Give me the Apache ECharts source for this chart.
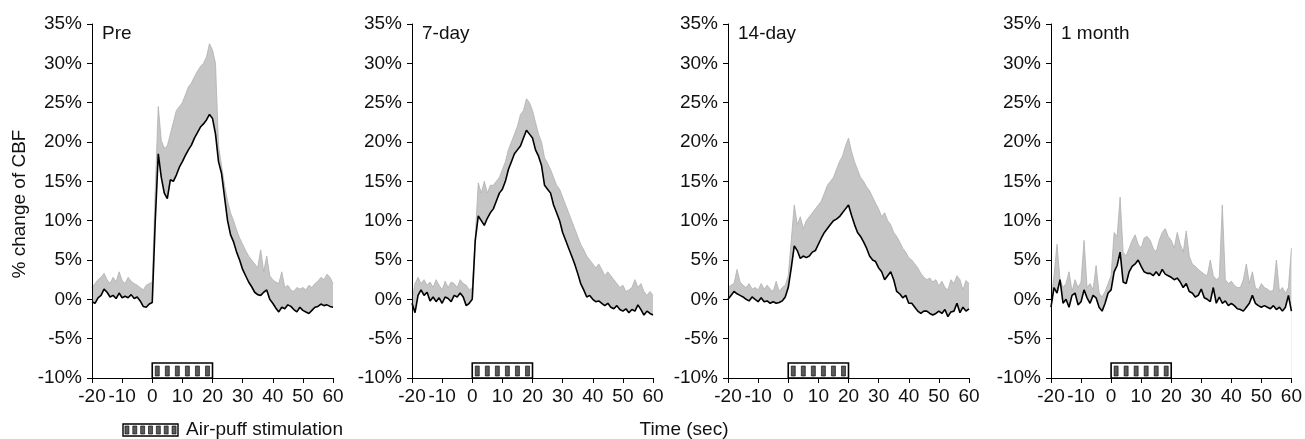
<!DOCTYPE html>
<html>
<head>
<meta charset="utf-8">
<script src="https://cdn.jsdelivr.net/npm/echarts@6/dist/echarts.min.js"></script>
<style>
  html, body { margin: 0; padding: 0; background: #fff; }
  #chart { width: 1305px; height: 439px; }
</style>
</head>
<body>
<div id="chart"></div>
<script>
// panel labels
var panelNames = ['Pre', '7-day', '14-day', '1 month'];

// sample times: -20 .. 60 sec, 1 s apart
var tStart = -20, tStep = 1;

// mean % change of CBF (black line)
var preMean = [-0.3,-0.5,0.2,0.5,1.3,0.9,0.3,0.5,0.1,0.8,0.2,0.4,0.2,0.6,0.1,0.3,-0.2,-0.9,-1.0,-0.6,-0.4,
  10.0,18.5,15.5,13.5,12.8,15.2,15.0,15.8,16.8,17.5,18.3,19.0,19.6,20.5,21.2,21.9,22.3,22.8,23.5,23.0,
  21.0,17.5,16.0,13.0,10.0,8.2,7.3,6.0,5.0,3.8,3.0,2.2,1.6,0.9,0.6,0.5,0.9,1.2,0.0,-0.5,
  -1.1,-1.6,-1.0,-1.2,-0.7,-0.9,-1.3,-1.6,-1.0,-1.4,-1.6,-1.8,-1.4,-1.0,-0.9,-0.6,-0.8,-0.7,-0.9,-1.0];
var day7Mean = [-0.5,-1.7,0.5,1.2,0.5,0.9,-0.2,0.3,-0.3,0.2,-0.5,0.3,0.1,-0.3,0.5,0.3,0.8,0.3,-0.8,-0.5,0.0,
  7.5,10.6,10.0,9.4,10.3,11.0,11.5,12.5,13.5,14.0,15.0,16.5,17.5,18.5,19.0,19.5,20.5,21.5,21.0,20.5,
  19.0,18.2,17.0,14.5,14.0,13.5,12.0,11.0,10.0,8.5,7.5,6.5,5.5,4.5,3.3,2.0,1.2,0.3,0.5,0.0,
  -0.3,-0.2,-0.5,-0.8,-0.5,-1.0,-1.2,-0.8,-1.3,-1.5,-1.2,-1.7,-1.3,-1.5,-0.7,-1.3,-2.0,-1.5,-1.8,-2.0];
var day14Mean = [0.0,0.5,1.0,0.7,0.5,0.3,0.0,-0.2,0.3,0.0,-0.3,0.2,-0.3,-0.2,-0.5,-0.3,-0.5,-0.4,-0.2,0.3,1.5,
  4.0,6.8,6.2,5.2,5.5,5.3,5.5,6.0,6.2,7.0,7.8,8.5,9.0,9.5,10.0,10.2,10.5,11.0,11.5,12.0,
  10.7,9.5,8.5,8.0,7.3,6.5,5.5,5.0,4.8,4.0,3.5,2.5,3.0,3.5,2.5,1.0,0.7,0.2,0.5,-0.5,
  -0.5,-1.0,-1.5,-1.8,-1.5,-1.5,-1.8,-2.0,-1.8,-1.5,-1.8,-1.3,-2.2,-1.6,-1.5,-0.5,-1.7,-1.0,-1.5,-1.2];
var monthMean = [-1.0,1.5,0.8,2.5,-0.5,0.0,-1.0,0.5,0.8,-0.7,-0.3,1.2,0.2,-0.5,0.5,0.2,-1.0,-1.5,-0.5,0.8,1.2,
  3.5,4.3,6.0,2.2,2.0,3.5,4.2,4.5,5.0,4.2,3.5,3.3,3.3,3.0,3.5,3.0,3.8,3.2,3.0,2.8,
  2.5,2.7,2.2,1.5,2.0,1.0,0.8,0.3,0.5,1.3,0.2,0.0,-0.3,1.5,-0.5,0.3,-0.5,-0.2,-0.8,-0.5,
  -0.8,-1.2,-1.3,-1.5,-1.0,-0.5,0.5,-0.5,-0.8,-1.0,-0.8,-1.0,-1.2,-0.8,-1.3,-1.0,-1.5,-1.0,0.5,-1.5];

// mean + SD (top of the grey band)
var preUpper = [1.5,2.0,2.5,2.8,3.3,2.5,2.0,2.8,2.2,3.5,2.4,2.0,2.8,2.3,2.0,1.8,1.5,1.2,1.8,2.0,2.2,
  14.0,24.5,20.2,19.2,19.5,21.0,22.5,24.0,24.5,25.0,26.0,27.0,27.5,28.3,29.0,29.6,30.0,30.8,32.5,31.7,
  30.0,19.5,17.0,14.5,12.5,11.0,10.0,8.8,7.8,7.0,6.2,5.5,5.0,4.5,4.0,6.3,3.5,5.5,3.0,2.5,
  2.2,2.0,3.5,1.5,1.8,1.2,1.0,1.5,1.3,1.5,1.2,1.8,1.5,2.0,2.3,2.8,2.5,3.2,2.8,2.0];
var day7Upper = [0.0,2.0,2.8,2.0,2.5,1.8,2.2,1.5,2.5,1.8,1.2,2.3,1.5,2.2,2.0,1.5,2.5,2.0,1.8,1.2,1.5,
  8.0,14.8,13.5,15.0,13.5,14.5,14.5,15.0,15.5,16.5,17.5,19.0,20.0,21.0,22.0,23.5,24.0,25.5,25.0,24.0,
  22.5,21.0,20.0,18.0,17.3,16.5,15.5,14.5,14.0,13.0,12.0,11.0,10.0,9.0,8.0,7.0,6.3,5.5,5.0,4.5,
  4.0,4.5,3.8,3.0,3.5,3.0,2.5,2.0,1.5,1.8,1.0,1.2,1.5,2.5,1.5,2.0,1.0,0.5,1.0,0.5];
var day14Upper = [1.5,1.8,2.0,3.8,2.2,1.8,1.5,2.0,1.3,1.5,1.2,2.0,1.3,1.8,1.3,1.0,2.3,1.0,1.5,1.8,3.0,
  7.5,12.0,9.5,10.5,9.0,10.0,10.5,11.0,11.5,12.0,12.5,13.5,14.5,15.0,15.5,16.5,17.5,18.2,19.5,20.5,
  18.8,17.5,16.5,15.5,15.0,14.3,13.8,13.0,12.2,11.5,10.5,11.0,10.0,9.5,8.5,8.0,7.3,6.5,6.0,5.3,
  5.0,4.5,4.0,3.3,2.8,2.5,2.7,2.2,2.5,1.7,2.3,1.5,1.2,2.5,2.0,3.0,2.5,1.2,2.4,2.0];
var monthUpper = [0.0,3.0,7.0,2.0,1.5,2.0,3.5,1.0,2.5,1.5,2.2,7.5,1.5,2.0,1.2,4.3,0.8,0.3,1.0,2.0,3.0,
  8.5,8.0,13.0,6.0,5.5,6.5,7.5,8.2,7.0,6.5,7.8,8.0,7.5,6.5,6.0,7.5,8.5,9.0,8.0,7.5,
  6.5,8.5,7.0,6.0,8.7,5.5,4.5,4.2,3.8,3.5,3.2,3.0,5.0,3.0,2.5,2.8,12.0,2.5,2.0,2.3,
  1.8,1.5,1.5,2.5,4.5,2.0,3.5,1.5,1.2,2.0,1.5,1.3,1.0,1.2,5.0,1.0,1.5,0.8,1.5,6.5];

// air-puff stimulation period (sec) and box height (%)
var stimOn = 0, stimOff = 20;
var stimBottom = -10, stimTop = -8.1;

var means = [preMean, day7Mean, day14Mean, monthMean];
var uppers = [preUpper, day7Upper, day14Upper, monthUpper];

var gridLefts = [92, 412, 728, 1051];
var font = "'Liberation Sans', Arial, Helvetica, sans-serif";
var ink = '#111';

var grids = [], xAxes = [], yAxes = [], series = [], titles = [];

function stimRender(params, api) {
    var p0 = api.coord([api.value(0), api.value(2)]);
    var p1 = api.coord([api.value(1), api.value(3)]);
    var w = p1[0] - p0[0], h = p0[1] - p1[1];
    var kids = [{
        type: 'rect',
        shape: {x: p0[0], y: p1[1], width: w, height: h},
        style: {fill: '#fff', stroke: '#000', lineWidth: 1.6}
    }];
    for (var k = 0; k < 6; k++) {
        var cx = p0[0] + w * (k + 0.5) / 6;
        kids.push({
            type: 'rect',
            shape: {x: cx - 2, y: p1[1] + 3, width: 4, height: h - 5},
            style: {fill: '#5a5a5a', stroke: '#000', lineWidth: 0.6}
        });
    }
    return {type: 'group', children: kids};
}

for (var i = 0; i < 4; i++) {
    grids.push({left: gridLefts[i], top: 24, width: 241, height: 354});
    xAxes.push({
        type: 'value', gridIndex: i, min: -20, max: 60, interval: 10, z: 10,
        axisLine: {onZero: false, lineStyle: {color: '#000', width: 1}},
        axisTick: {length: 5, lineStyle: {color: '#000'}},
        splitLine: {show: false},
        axisLabel: {color: ink, fontSize: 19, fontFamily: font, margin: 9}
    });
    yAxes.push({
        type: 'value', gridIndex: i, min: -10, max: 35, interval: 5, z: 10,
        axisLine: {show: true, onZero: false, lineStyle: {color: '#000', width: 1}},
        axisTick: {show: true, length: 5, lineStyle: {color: '#000'}},
        splitLine: {show: false},
        axisLabel: {color: ink, fontSize: 19, fontFamily: font, margin: 10, formatter: '{value}%'}
    });
    titles.push({
        text: panelNames[i], left: gridLefts[i] + 5, top: 19,
        textStyle: {fontSize: 19, fontWeight: 'normal', color: ink, fontFamily: font}
    });

    var upperData = [], meanData = [];
    for (var j = 0; j < means[i].length; j++) {
        var t = tStart + j * tStep;
        upperData.push([t, Math.max(uppers[i][j], means[i][j])]);
        meanData.push([t, means[i][j]]);
    }
    // grey band: upper curve filled down to the floor ...
    series.push({
        type: 'line', xAxisIndex: i, yAxisIndex: i, data: upperData,
        symbol: 'none', silent: true, z: 2,
        lineStyle: {color: '#b0b0b0', width: 0.8},
        areaStyle: {color: '#c6c6c6', opacity: 1, origin: 'start'}
    });
    // ... then blanked out below the mean curve
    series.push({
        type: 'line', xAxisIndex: i, yAxisIndex: i, data: meanData,
        symbol: 'none', silent: true, z: 3,
        lineStyle: {color: '#000', width: 1.6},
        areaStyle: {color: '#fff', opacity: 1, origin: 'start'}
    });
    series.push({
        type: 'custom', xAxisIndex: i, yAxisIndex: i, z: 6,
        data: [[stimOn, stimOff, stimBottom, stimTop]],
        renderItem: stimRender, silent: true, clip: false
    });
}

// legend icon: small hatched box
var legendKids = [{type: 'rect', shape: {x: 0, y: 0, width: 55, height: 12},
    style: {fill: '#fff', stroke: '#000', lineWidth: 1.4}}];
for (var k = 0; k < 7; k++) {
    legendKids.push({type: 'rect', shape: {x: 55 * (k + 0.5) / 7 - 2, y: 2, width: 4, height: 8},
        style: {fill: '#5a5a5a', stroke: '#000', lineWidth: 0.6}});
}

var chart = echarts.init(document.getElementById('chart'), null, {renderer: 'canvas'});
chart.setOption({
    backgroundColor: '#fff',
    animation: false,
    title: titles,
    grid: grids,
    xAxis: xAxes,
    yAxis: yAxes,
    series: series,
    graphic: [
        {type: 'text', x: 20, y: 204, rotation: Math.PI / 2,
         style: {text: '% change of CBF', fill: ink, font: '19px ' + font, textAlign: 'center', textVerticalAlign: 'middle'}},
        {type: 'text', x: 684, y: 430,
         style: {text: 'Time (sec)', fill: ink, font: '19px ' + font, textAlign: 'center', textVerticalAlign: 'middle'}},
        {type: 'group', x: 123, y: 424, children: legendKids},
        {type: 'text', x: 186, y: 430,
         style: {text: 'Air-puff stimulation', fill: ink, font: '19px ' + font, textAlign: 'left', textVerticalAlign: 'middle'}}
    ]
});
</script>
</body>
</html>
